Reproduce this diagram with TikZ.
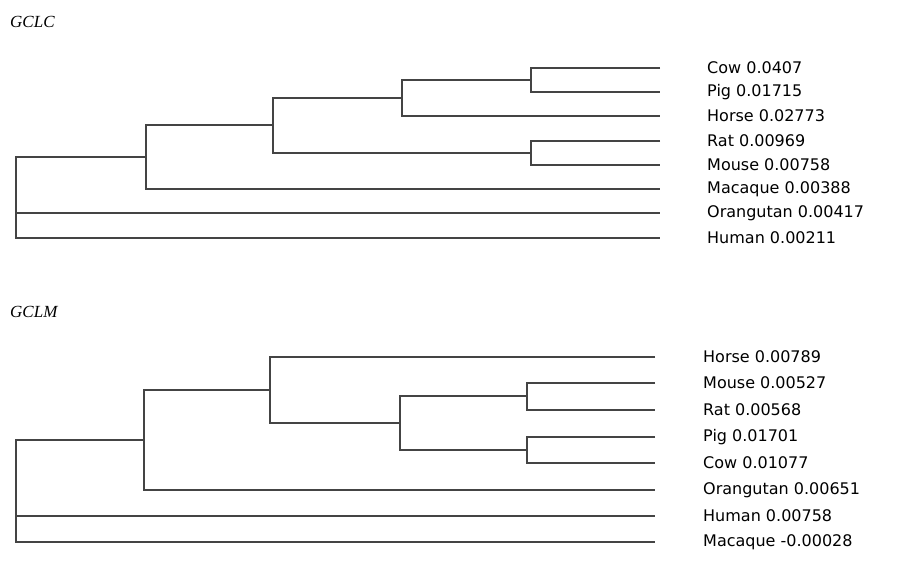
\documentclass[tikz,border=0pt]{standalone}
\usepackage{fontspec}
\setmainfont{DejaVu Sans}
\newfontfamily\titlefont{Liberation Serif}
\definecolor{branchgray}{HTML}{444444}
\tikzset{
  branch/.style={draw=branchgray, line width=2pt},
  leaf/.style={anchor=west, inner sep=0pt, font=\fontsize{16}{18}\selectfont, text=black},
  treetitle/.style={anchor=west, inner sep=0pt, font=\titlefont\itshape\fontsize{17}{19}\selectfont}
}
\begin{document}
\begin{tikzpicture}[x=1pt,y=-1pt]
    \useasboundingbox (0,0) rectangle (912,564);

    % GCLC
    \node[treetitle] (t1) at (10, 22) {GCLC};
    \node[leaf] (a1) at (707, 68) {Cow 0.0407};
    \node[leaf] (a2) at (707, 92) {Pig 0.01715};
    \node[leaf] (a3) at (707, 116) {Horse 0.02773};
    \node[leaf] (a4) at (707, 141) {Rat 0.00969};
    \node[leaf] (a5) at (707, 165) {Mouse 0.00758};
    \node[leaf] (a6) at (707, 189) {Macaque 0.00388};
    \node[leaf] (a7) at (707, 213) {Orangutan 0.00417};
    \node[leaf] (a8) at (707, 238) {Human 0.00211};

    \draw[branch] (660, 68) -| (531, 92) -- (660, 92);
    \draw[branch] (531, 80) -| (402, 116) -- (660, 116);
    \draw[branch] (660, 141) -| (531, 165) -- (660, 165);
    \draw[branch] (402, 98) -| (273, 153) -- (531, 153);
    \draw[branch] (273, 125) -| (146, 189) -- (660, 189);
    \draw[branch] (146, 157) -| (16, 238) -- (660, 238);
    \draw[branch] (16, 213) -- (660, 213);

    % GCLM
    \node[treetitle] (t2) at (10, 312) {GCLM};
    \node[leaf] (b1) at (703, 357) {Horse 0.00789};
    \node[leaf] (b2) at (703, 383) {Mouse 0.00527};
    \node[leaf] (b3) at (703, 410) {Rat 0.00568};
    \node[leaf] (b4) at (703, 437) {Pig 0.01701};
    \node[leaf] (b5) at (703, 463) {Cow 0.01077};
    \node[leaf] (b6) at (703, 490) {Orangutan 0.00651};
    \node[leaf] (b7) at (703, 516) {Human 0.00758};
    \node[leaf] (b8) at (703, 542) {Macaque -0.00028};

    \draw[branch] (655, 383) -| (527, 410) -- (655, 410);
    \draw[branch] (655, 437) -| (527, 463) -- (655, 463);
    \draw[branch] (527, 396) -| (400, 450) -- (527, 450);
    \draw[branch] (655, 357) -| (270, 423) -- (400, 423);
    \draw[branch] (270, 390) -| (144, 490) -- (655, 490);
    \draw[branch] (144, 440) -| (16, 542) -- (655, 542);
    \draw[branch] (16, 516) -- (655, 516);
\end{tikzpicture}
\end{document}
